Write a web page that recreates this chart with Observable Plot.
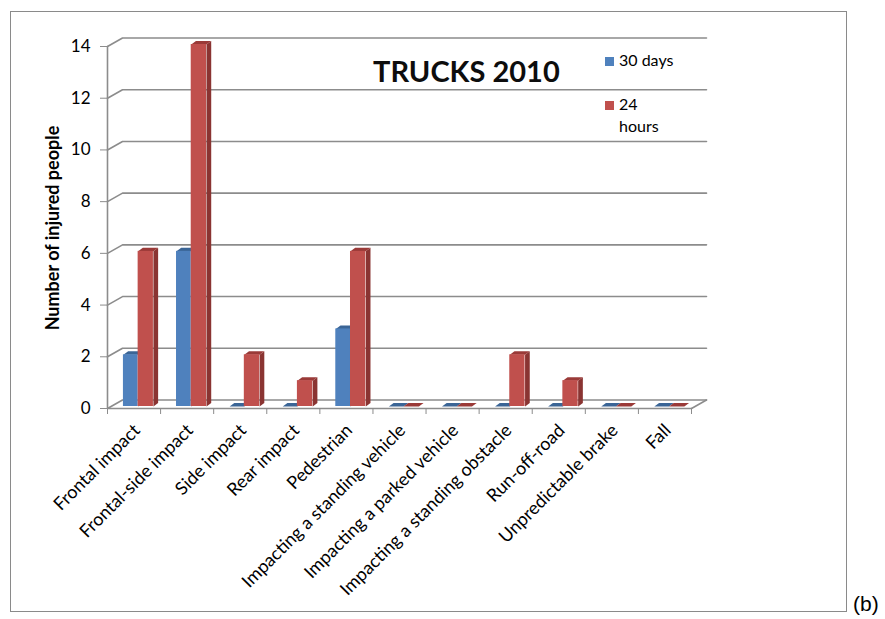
<!DOCTYPE html>
<html>
<head>
<meta charset="utf-8">
<script src="https://cdn.jsdelivr.net/npm/d3@7"></script>
<script src="https://cdn.jsdelivr.net/npm/@observablehq/plot@0.6"></script>
<style>
  body { margin: 0; background: #fff; }
  #wrap { position: relative; width: 885px; height: 619px; overflow: hidden; font-family: Lato, sans-serif; }
  #wrap svg { position: absolute; left: 0; top: 0; }
  #border { position: absolute; left: 10px; top: 11px; width: 835px; height: 599px; border: 1px solid #8a8a8a; pointer-events: none; }
</style>
</head>
<body>
<div id="wrap">
  <div id="chart"></div>
  <div id="border"></div>
  <svg id="overlay" width="885" height="619" style="pointer-events:none">
    <text x="373" y="82" font-family="Lato, sans-serif" font-weight="bold" font-size="29" fill="#0d0d0d">TRUCKS 2010</text>
    <g id="legend" font-family="Lato, sans-serif" font-size="16" fill="#000"></g>
    <text transform="translate(59,228) rotate(-90)" text-anchor="middle" font-family="Lato, sans-serif" font-weight="bold" font-size="18" fill="#000">Number of injured people</text>
    <text x="853" y="611" font-family="Liberation Sans, Arial, sans-serif" font-size="21" fill="#000">(b)</text>
  </svg>
</div>
<script>
// ---- data ----
const categories = ["Frontal impact", "Frontal-side impact", "Side impact", "Rear impact", "Pedestrian",
  "Impacting a standing vehicle", "Impacting a parked vehicle", "Impacting a standing obstacle",
  "Run-off-road", "Unpredictable brake", "Fall"];
const seriesNames = ["30 days", "24 hours"];
const days30 = [2, 6, 0, 0, 3, 0, 0, 0, 0, 0, 0];
const hours24 = [6, 14, 2, 1, 6, 0, 0, 2, 1, 0, 0];
const yTicks = [0, 2, 4, 6, 8, 10, 12, 14];

// ---- layout / style ----
const W = 885, H = 619;
const frame = {left: 107, right: 691, top: 46, bottom: 408};
const N = categories.length;
const yMax = d3.max(yTicks);
const ux = (frame.right - frame.left) / N;
const uy = (frame.bottom - frame.top) / yMax;
const wall = {dx: 15 / ux, dy: 8.5 / uy};     // back-wall 3D offset
const depth = {dx: 4.7 / ux, dy: 3.5 / uy};   // bar 3D depth
const slot = {"30 days": [0.30, 0.577], "24 hours": [0.577, 0.865]};
const colors = {
  "30 days": {front: "#4F81BD", top: "#3B6596", side: "#385D8A"},
  "24 hours": {front: "#C0504D", top: "#9A3A38", side: "#8A3432"}
};
const gridColor = "#8c8c8c";

// ---- derived tables ----
const valuesBySeries = {"30 days": days30, "24 hours": hours24};
const bars = [];
categories.forEach((c, i) => seriesNames.forEach(s => {
  bars.push({i, c, s, v: valuesBySeries[s][i], x1: i + slot[s][0], x2: i + slot[s][1]});
}));
const tops = [], sides = [];
bars.forEach((b, k) => {
  [[b.x1, b.v], [b.x1 + depth.dx, b.v + depth.dy], [b.x2 + depth.dx, b.v + depth.dy], [b.x2, b.v]]
    .forEach(([x, y]) => tops.push({k, s: b.s, x, y}));
  if (b.v > 0)
    [[b.x2, 0], [b.x2, b.v], [b.x2 + depth.dx, b.v + depth.dy], [b.x2 + depth.dx, depth.dy]]
      .forEach(([x, y]) => sides.push({k, s: b.s, x, y}));
});
const grid = [];
yTicks.forEach(v => grid.push({v, x: 0, y: v}, {v, x: wall.dx, y: v + wall.dy}, {v, x: N + wall.dx, y: v + wall.dy}));
const edges = [
  {k: "floorRight", x: N + wall.dx, y: wall.dy}, {k: "floorRight", x: N, y: 0},
  {k: "front", x: 0, y: 0}, {k: "front", x: N, y: 0},
  {k: "yaxis", x: 0, y: 0}, {k: "yaxis", x: 0, y: yMax}
];

const marks = [
  Plot.line(grid, {x: "x", y: "y", z: "v", stroke: gridColor, strokeWidth: 1.6}),
  Plot.line(edges, {x: "x", y: "y", z: "k", stroke: gridColor, strokeWidth: 1.6}),
  Plot.axisY(yTicks, {tickSize: 7, tickPadding: 10, label: null, stroke: gridColor, fill: "#000", fontSize: 17}),
  Plot.axisX(d3.range(0, N + 1), {tickSize: 6, tickFormat: () => "", label: null, stroke: gridColor})
];
seriesNames.forEach(s => {
  marks.push(Plot.line(sides.filter(d => d.s === s), {x: "x", y: "y", z: "k", fill: colors[s].side, stroke: "none", dy: -2}));
  marks.push(Plot.line(tops.filter(d => d.s === s), {x: "x", y: "y", z: "k", fill: colors[s].top, stroke: "none", dy: -2}));
});
seriesNames.forEach(s => {
  marks.push(Plot.rectY(bars.filter(d => d.s === s), {x1: "x1", x2: "x2", y1: 0, y2: "v", fill: colors[s].front, dy: -2}));
});
marks.push(Plot.text(categories, {
  text: d => d, x: (d, i) => i + 0.5, frameAnchor: "bottom", rotate: -45, textAnchor: "end",
  dx: 7, dy: 23, fontSize: 18, fill: "#000"
}));

const chart = Plot.plot({
  width: W, height: H,
  marginLeft: frame.left, marginRight: W - frame.right, marginTop: frame.top, marginBottom: H - frame.bottom,
  x: {type: "linear", domain: [0, N]},
  y: {type: "linear", domain: [0, yMax]},
  style: {fontFamily: "Lato, sans-serif", background: "#fff", overflow: "visible"},
  marks
});
document.getElementById("chart").appendChild(chart);

// legend
const lg = document.getElementById("legend");
const ns = "http://www.w3.org/2000/svg";
const legendRows = [
  {s: "30 days", y: 57, lines: ["30 days"]},
  {s: "24 hours", y: 101, lines: ["24", "hours"]}
];
legendRows.forEach(r => {
  const rect = document.createElementNS(ns, "rect");
  rect.setAttribute("x", 605); rect.setAttribute("y", r.y);
  rect.setAttribute("width", 9); rect.setAttribute("height", 9);
  rect.setAttribute("fill", colors[r.s].front);
  lg.appendChild(rect);
  r.lines.forEach((t, j) => {
    const tx = document.createElementNS(ns, "text");
    tx.setAttribute("x", 619); tx.setAttribute("y", r.y + 9 + j * 22);
    tx.textContent = t;
    lg.appendChild(tx);
  });
});
</script>
</body>
</html>
